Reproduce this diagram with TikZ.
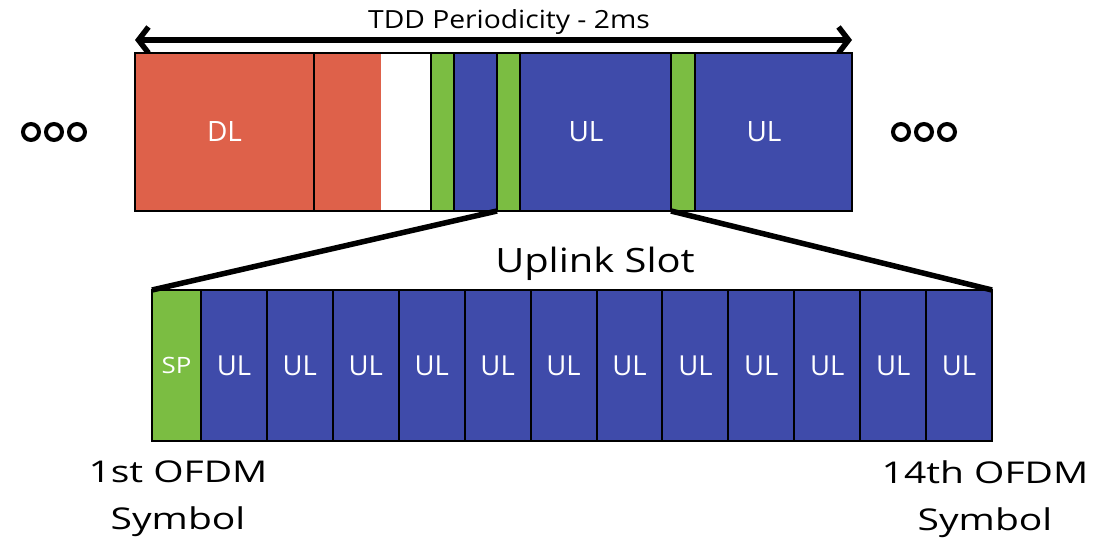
\documentclass[tikz,border=0pt]{standalone}
\usepackage{fontspec}
\setmainfont{Open Sans}
\newfontfamily\titlefont[FakeStretch=1.13]{Open Sans}
\newfontfamily\slotfont[FakeStretch=1.19]{Open Sans}
\newfontfamily\symfont[FakeStretch=1.3]{Open Sans}
\newfontfamily\spfont[FakeStretch=1.15]{Open Sans}
\usetikzlibrary{arrows.meta}
\definecolor{dlred}{RGB}{222,97,74}
\definecolor{ulblue}{RGB}{63,75,170}
\definecolor{spgreen}{RGB}{123,189,66}
\begin{document}
\begin{tikzpicture}[x=1pt,y=-1pt,
  seg/.style={draw=black, line width=2pt, inner sep=0pt, outer sep=0pt, anchor=north west,
    minimum height=158pt, text=white, font=\fontsize{28}{32}\selectfont},
  cell/.style={draw=black, line width=2pt, inner sep=0pt, outer sep=0pt, anchor=north west,
    minimum height=151pt, minimum width=65.9pt, fill=ulblue, text=white, font=\fontsize{27.5}{32}\selectfont},
  dotc/.style={circle, draw=black, line width=4pt, minimum size=16pt, inner sep=0pt},
  zoomline/.style={line width=5.5pt},
  lbl/.style={font=\symfont\fontsize{30}{47}\selectfont, align=center, inner sep=0pt}]
\useasboundingbox (0,0) rectangle (1114,538);
% title and arrow
\node[font=\titlefont\fontsize{25}{30}\selectfont, inner sep=0pt, anchor=base] (title) at (509,28) {TDD Periodicity - 2ms};
\coordinate (al) at (135,40);
\coordinate (ar) at (852,40);
\draw[line width=5.5pt, {Straight Barb[length=10pt,width=26pt]}-{Straight Barb[length=10pt,width=26pt]}] (al) -- (ar);
% top bar
\node[seg, fill=dlred, minimum width=179pt] (dl) at (135,53) {DL};
\node[seg, fill=white, minimum width=117pt,
  path picture={\fill[dlred] (path picture bounding box.north west) rectangle ([xshift=67pt]path picture bounding box.south west);}] (rw) at (314,53) {};
\node[seg, fill=spgreen, minimum width=23pt] (g1) at (431,53) {};
\node[seg, fill=ulblue, minimum width=43pt] (b1) at (454,53) {};
\node[seg, fill=spgreen, minimum width=23pt] (g2) at (497,53) {};
\node[seg, fill=ulblue, minimum width=151pt] (b2) at (520,53) {\hspace{-19pt}UL};
\node[seg, fill=spgreen, minimum width=24pt] (g3) at (671,53) {};
\node[seg, fill=ulblue, minimum width=157pt] (b3) at (695,53) {\hspace{-19pt}UL};
% ellipses
\node[dotc] (l1) at (31,132) {};
\node[dotc] (l2) at (54,132) {};
\node[dotc] (l3) at (77,132) {};
\node[dotc] (r1) at (901,132) {};
\node[dotc] (r2) at (924,132) {};
\node[dotc] (r3) at (947,132) {};
% bottom row
\node[cell, fill=spgreen, minimum width=49pt, font=\spfont\fontsize{22.5}{26}\selectfont] (sp) at (152,290) {SP};
\foreach \i in {1,...,12} {
  \node[cell] (c\i) at ({201+65.92*(\i-1)},290) {UL};
}
% zoom lines
\draw[zoomline] (g2.south west) -- (sp.north west);
\draw[zoomline] (g3.south west) -- (c12.north east);
% labels
\node[font=\slotfont\fontsize{33.5}{40}\selectfont, inner sep=0pt, anchor=base] (ulslot) at (595,272) {Uplink Slot};
\node[lbl] (first) at (178,499) {1st OFDM\\Symbol};
\node[lbl] (last) at (985,499) {14th OFDM\\Symbol};
\end{tikzpicture}
\end{document}
